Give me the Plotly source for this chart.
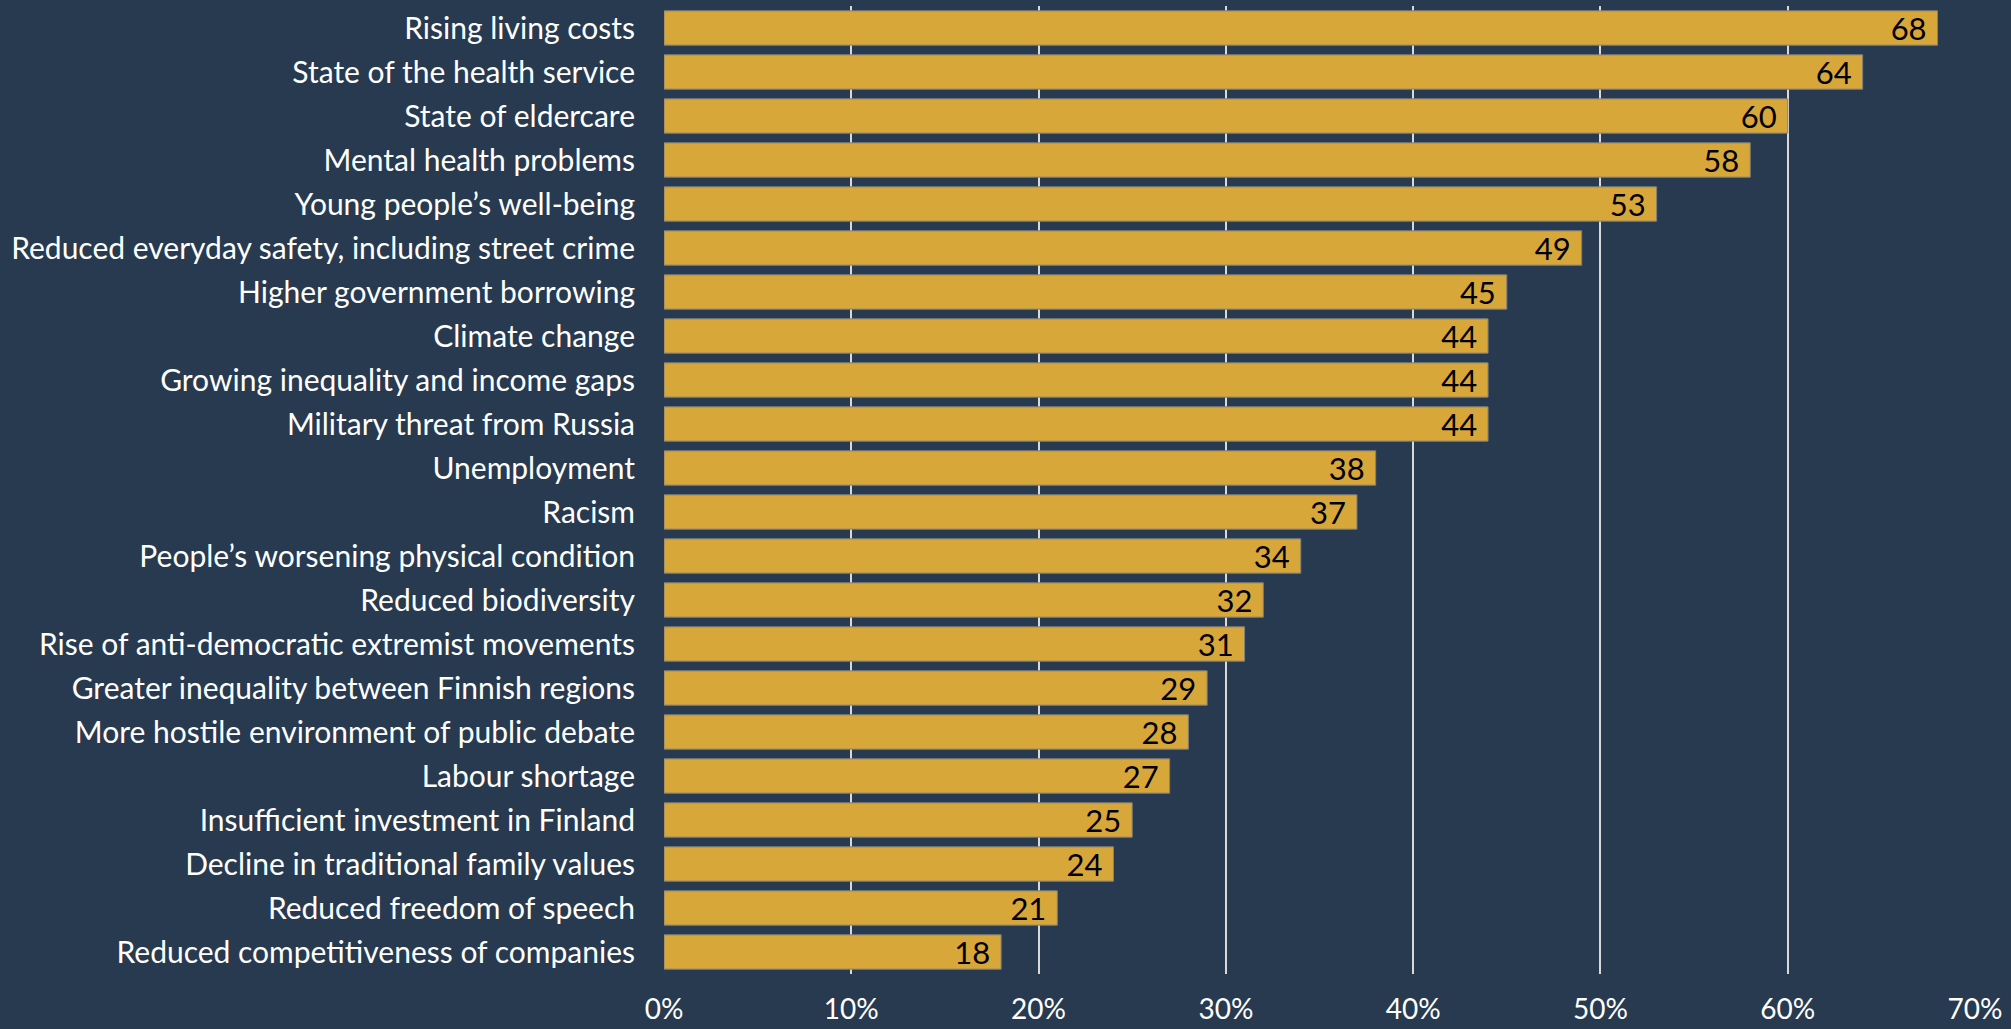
import plotly.graph_objects as go

categories = [
    "Rising living costs",
    "State of the health service",
    "State of eldercare",
    "Mental health problems",
    "Young people\u2019s well-being",
    "Reduced everyday safety, including street crime",
    "Higher government borrowing",
    "Climate change",
    "Growing inequality and income gaps",
    "Military threat from Russia",
    "Unemployment",
    "Racism",
    "People\u2019s worsening physical condition",
    "Reduced biodiversity",
    "Rise of anti-democratic extremist movements",
    "Greater inequality between Finnish regions",
    "More hostile environment of public debate",
    "Labour shortage",
    "Insufficient investment in Finland",
    "Decline in traditional family values",
    "Reduced freedom of speech",
    "Reduced competitiveness of companies",
]
values = [68, 64, 60, 58, 53, 49, 45, 44, 44, 44, 38, 37, 34, 32, 31, 29, 28, 27, 25, 24, 21, 18]
tick_vals = [0, 10, 20, 30, 40, 50, 60, 70]
tick_text = ["0%", "10%", "20%", "30%", "40%", "50%", "60%", "70%"]

BG = "#273A50"
BAR = "#D8A73A"
FONT = "Lato"

fig = go.Figure(go.Bar(
    x=values,
    y=categories,
    orientation="h",
    marker=dict(color=BAR, line=dict(color="#7F7F7F", width=1)),
    width=0.78,
    text=[f"{v}\u00a0" for v in values],
    textposition="inside",
    insidetextanchor="end",
    textangle=0,
    constraintext="none",
    textfont=dict(family=FONT, size=31, color="#000000"),
    hoverinfo="skip",
))

fig.update_layout(
    width=2011,
    height=1029,
    paper_bgcolor=BG,
    plot_bgcolor=BG,
    margin=dict(l=664, r=36, t=6, b=55),
    showlegend=False,
    font=dict(family=FONT, color="#FFFFFF"),
    xaxis=dict(
        range=[0, 70],
        tickvals=tick_vals,
        ticktext=tick_text,
        showgrid=True,
        gridcolor="#D9D9D9",
        gridwidth=2,
        zeroline=False,
        showline=False,
        ticks="",
        tickfont=dict(family=FONT, size=28, color="#FFFFFF"),
        ticklabelstandoff=16,
        automargin=False,
        fixedrange=True,
    ),
    yaxis=dict(
        categoryorder="array",
        categoryarray=categories[::-1],
        showgrid=False,
        zeroline=False,
        showline=False,
        ticks="",
        ticklabelstandoff=28,
        tickfont=dict(family=FONT, size=30, color="#FFFFFF"),
        automargin=False,
        fixedrange=True,
    ),
)

fig.write_html(
    "out.html",
    config={"displayModeBar": False},
    post_script="document.body.style.margin='0';document.body.style.overflow='hidden';document.body.style.background='#273A50';",
)
